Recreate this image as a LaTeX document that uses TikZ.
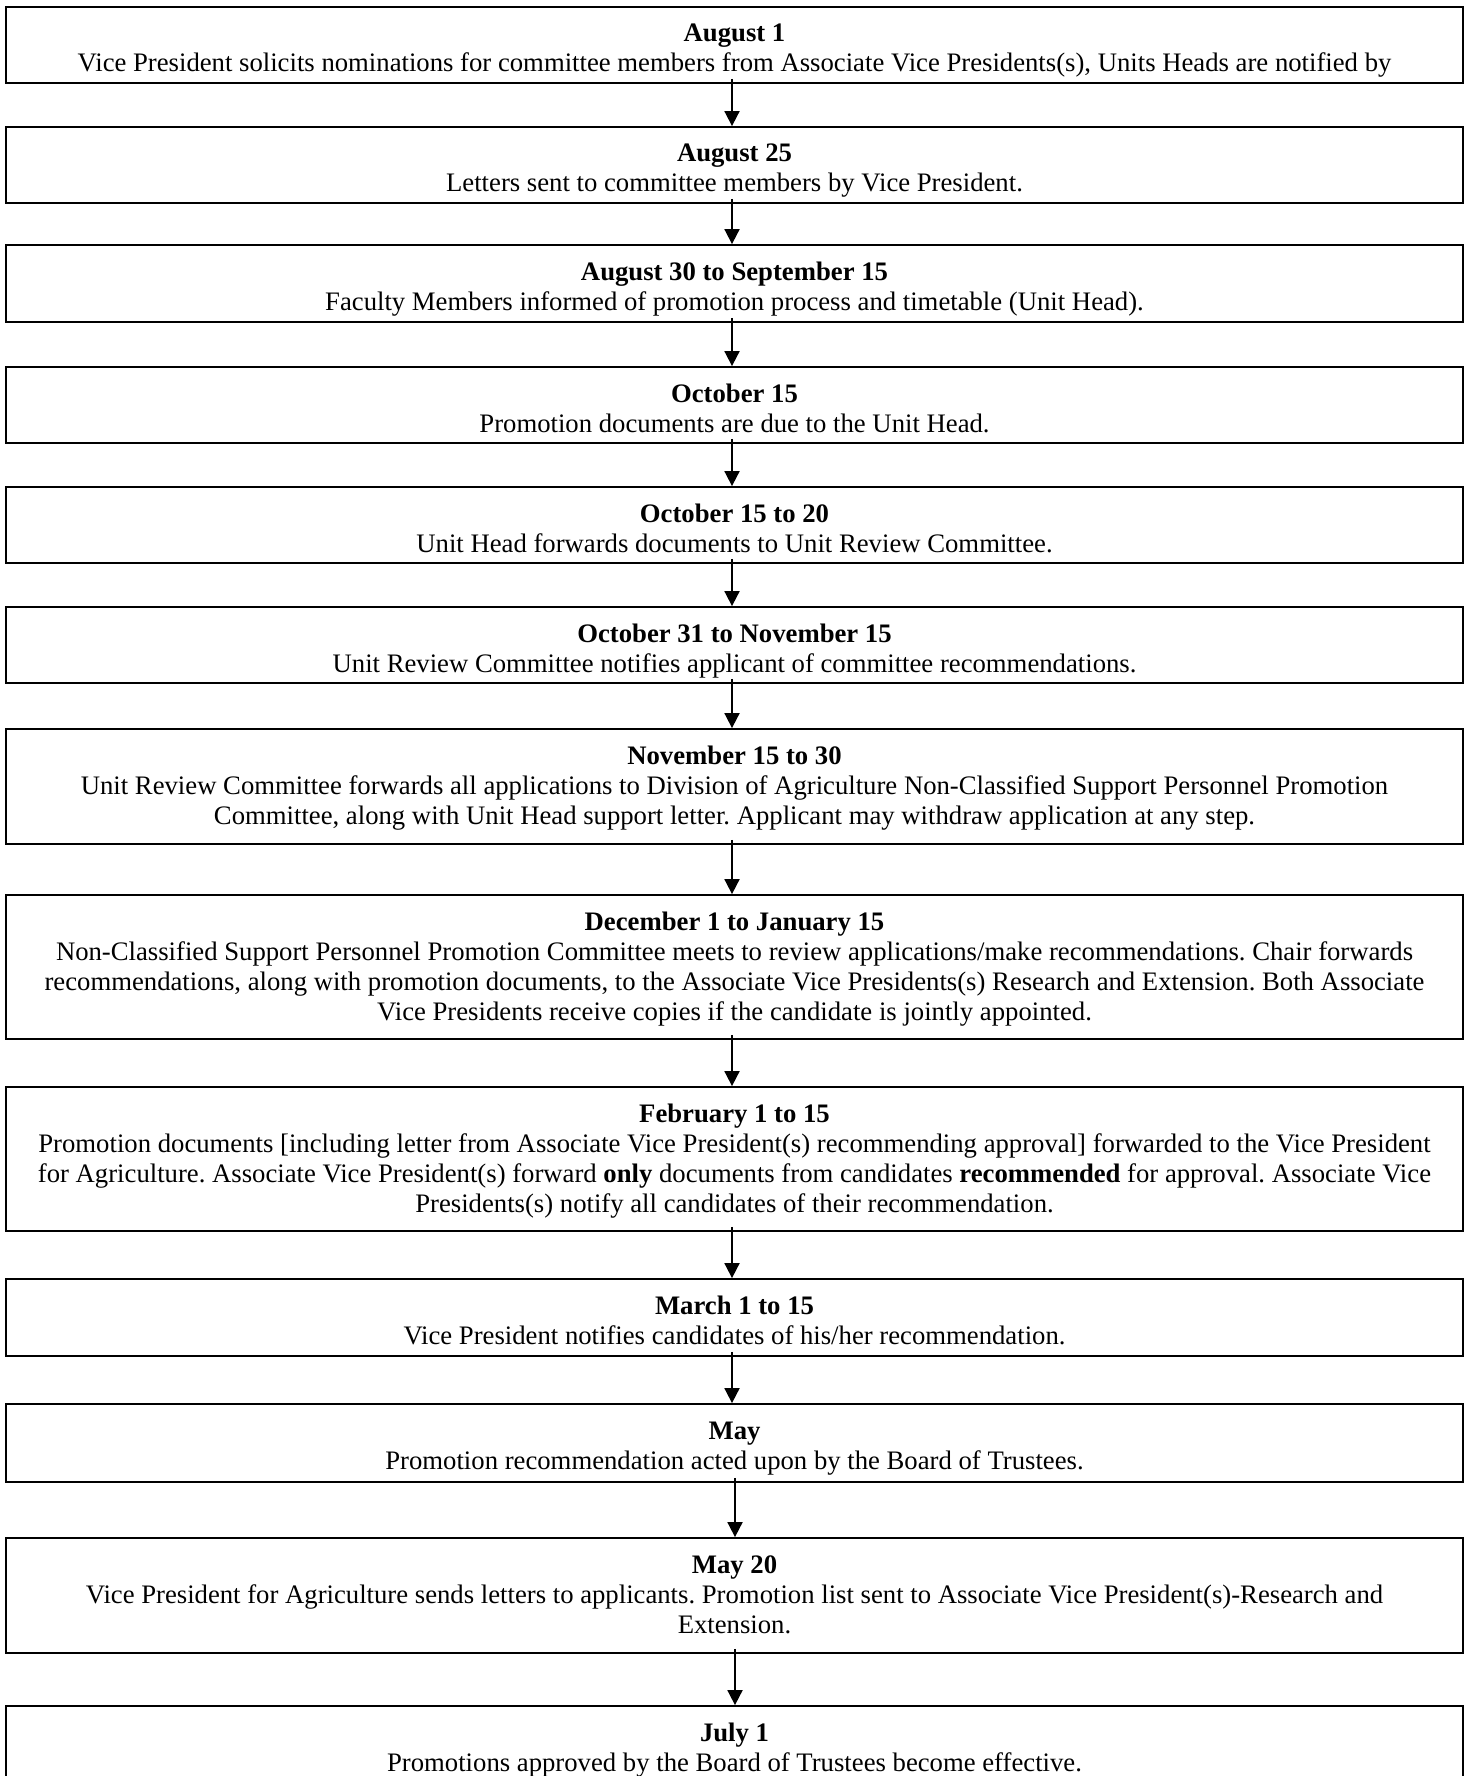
\documentclass[tikz,border=0pt]{standalone}
\usepackage{fontspec}
\setmainfont{Liberation Serif}
\usetikzlibrary{arrows.meta}
\tikzset{
  stepbox/.style={draw, line width=0.9pt, rectangle, minimum width=728.5pt, inner sep=0pt},
  steptext/.style={anchor=base, align=center, inner sep=0pt, font=\fontsize{13.35}{15}\selectfont\frenchspacing},
  flowarrow/.style={line width=0.9pt, -{Triangle[width=7.5pt,length=7.5pt]}}
}
% name, top, bottom, number of body lines, text
\newcommand\flowstep[5]{%
  \node[stepbox, minimum height={(#3-#2)*0.5pt}] (#1) at (734.5,{(#2+#3)/2}) {};
  \begin{scope}
    \clip ([yshift=3pt]#1.south west) rectangle (#1.north east);
    \node[steptext] (#1t) at (734.5,{#2+35+30*#4}) {#5};
  \end{scope}
}
\begin{document}
\begin{tikzpicture}[x=0.5pt,y=-0.5pt]
\useasboundingbox (0,0) rectangle (1470,1776);
\fill[white] (0,0) rectangle (1470,1776);
\clip (0,0) rectangle (1470,1776);
\flowstep{b1}{7}{83}{1}{\textbf{August 1}\\Vice President solicits nominations for committee members from Associate Vice Presidents(s), Units Heads are notified by}
\flowstep{b2}{127}{203}{1}{\textbf{August 25}\\Letters sent to committee members by Vice President.}
\flowstep{b3}{245}{322}{1}{\textbf{August 30 to September 15}\\Faculty Members informed of promotion process and timetable (Unit Head).}
\flowstep{b4}{367}{443}{1}{\textbf{October 15}\\Promotion documents are due to the Unit Head.}
\flowstep{b5}{487}{563}{1}{\textbf{October 15 to 20}\\Unit Head forwards documents to Unit Review Committee.}
\flowstep{b6}{607}{683}{1}{\textbf{October 31 to November 15}\\Unit Review Committee notifies applicant of committee recommendations.}
\flowstep{b7}{729}{844}{2}{\textbf{November 15 to 30}\\Unit Review Committee forwards all applications to Division of Agriculture Non-Classified Support Personnel Promotion\\Committee, along with Unit Head support letter. Applicant may withdraw application at any step.}
\flowstep{b8}{895}{1039}{3}{\textbf{December 1 to January 15}\\Non-Classified Support Personnel Promotion Committee meets to review applications/make recommendations. Chair forwards\\recommendations, along with promotion documents, to the Associate Vice Presidents(s) Research and Extension. Both Associate\\Vice Presidents receive copies if the candidate is jointly appointed.}
\flowstep{b9}{1087}{1231}{3}{\textbf{February 1 to 15}\\Promotion documents [including letter from Associate Vice President(s) recommending approval] forwarded to the Vice President\\for Agriculture. Associate Vice President(s) forward \textbf{only} documents from candidates \textbf{recommended} for approval. Associate Vice\\Presidents(s) notify all candidates of their recommendation.}
\flowstep{b10}{1279}{1356}{1}{\textbf{March 1 to 15}\\Vice President notifies candidates of his/her recommendation.}
\flowstep{b11}{1404}{1482}{1}{\textbf{May}\\Promotion recommendation acted upon by the Board of Trustees.}
\flowstep{b12}{1538}{1653}{2}{\textbf{May 20}\\Vice President for Agriculture sends letters to applicants. Promotion list sent to Associate Vice President(s)-Research and\\Extension.}
\flowstep{b13}{1706}{1800}{1}{\textbf{July 1}\\Promotions approved by the Board of Trustees become effective.}
\foreach \a/\b in {b1/b2,b2/b3,b3/b4,b4/b5,b5/b6,b6/b7,b7/b8,b8/b9,b9/b10,b10/b11}
  \draw[flowarrow] ([xshift=-1.25pt,yshift=2.5pt]\a.south) -- ([xshift=-1.25pt]\b.north);
\foreach \a/\b in {b11/b12,b12/b13}
  \draw[flowarrow] ([xshift=0.25pt,yshift=2.5pt]\a.south) -- ([xshift=0.25pt]\b.north);
\end{tikzpicture}
\end{document}
